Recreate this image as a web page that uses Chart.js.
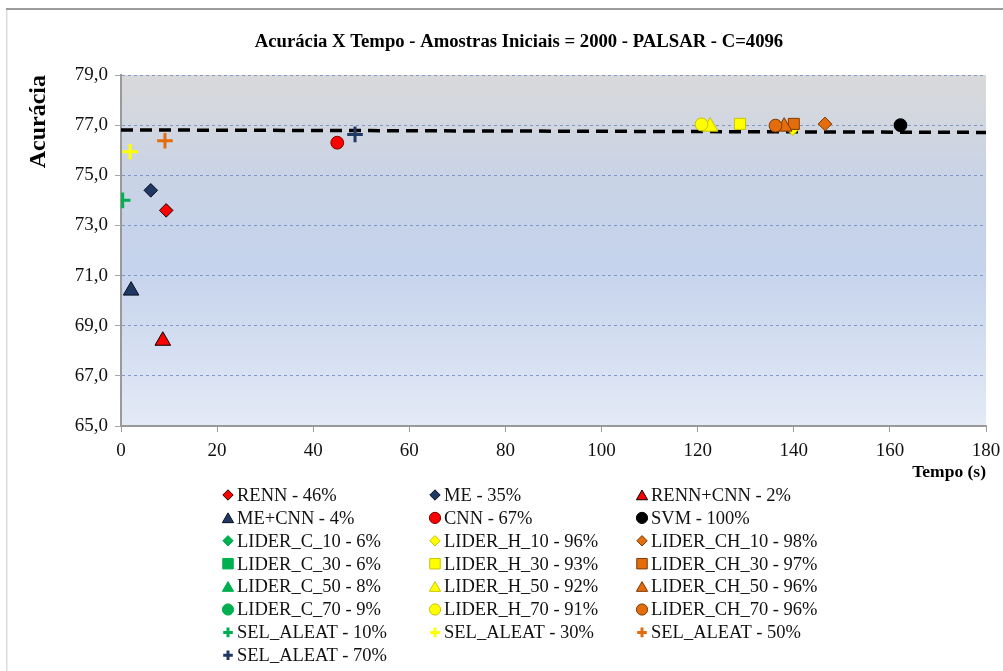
<!DOCTYPE html>
<html>
<head>
<meta charset="utf-8">
<script src="https://cdn.jsdelivr.net/npm/chart.js@4.4.1/dist/chart.umd.min.js"></script>
<style>
  html, body { margin: 0; padding: 0; background: #ffffff; }
  #wrap { width: 1003px; height: 671px; }
</style>
</head>
<body>
<div id="wrap"><canvas id="grafico" width="1003" height="671"></canvas></div>
<script>
// Título e eixos
const titulo = 'Acurácia X Tempo - Amostras Iniciais = 2000 - PALSAR - C=4096';
const tituloY = 'Acurácia';
const tituloX = 'Tempo (s)';
const ticksY = [65, 67, 69, 71, 73, 75, 77, 79];
const ticksX = [0, 20, 40, 60, 80, 100, 120, 140, 160, 180];

// Séries (nome exibido na legenda)
const series = [
  'RENN - 46%', 'ME - 35%', 'RENN+CNN - 2%',
  'ME+CNN - 4%', 'CNN - 67%', 'SVM - 100%',
  'LIDER_C_10 - 6%', 'LIDER_H_10 - 96%', 'LIDER_CH_10 - 98%',
  'LIDER_C_30 - 6%', 'LIDER_H_30 - 93%', 'LIDER_CH_30 - 97%',
  'LIDER_C_50 - 8%', 'LIDER_H_50 - 92%', 'LIDER_CH_50 - 96%',
  'LIDER_C_70 - 9%', 'LIDER_H_70 - 91%', 'LIDER_CH_70 - 96%',
  'SEL_ALEAT - 10%', 'SEL_ALEAT - 30%', 'SEL_ALEAT - 50%',
  'SEL_ALEAT - 70%'
];

// Tempo (s) de cada série; null = sem ponto visível no gráfico
const tempos = [
  9.4, 6.2, 8.7,
  2.1, 45.0, 162.2,
  null, 139.8, 146.5,
  null, 128.8, 140.0,
  null, 122.6, 138.0,
  null, 120.8, 136.2,
  0.35, 1.9, 9.15,
  48.7
];

// Acurácia (%) de cada série
const acuracias = [
  73.6, 74.4, 68.4,
  70.4, 76.3, 77.0,
  null, 76.86, 77.05,
  null, 77.05, 77.05,
  null, 76.94, 76.94,
  null, 77.03, 76.98,
  74.0, 75.94, 76.38,
  76.63
];

// Linha de referência tracejada (SVM)
const refTempo = [0, 180];
const refAcuracia = [76.81, 76.71];

// Estilo de cada série: forma, preenchimento, contorno
const VERMELHO = '#ff0000', AZUL = '#1f3864', VERDE = '#00b050',
      AMARELO = '#ffff00', LARANJA = '#e46c0a', PRETO = '#000000';
const estilos = [
  ['rectRot', VERMELHO, '#200000'], ['rectRot', AZUL, '#0a0f1c'], ['triangle', VERMELHO, '#000000'],
  ['triangle', AZUL, '#0a0f1c'], ['circle', VERMELHO, '#7a0000'], ['circle', PRETO, '#000000'],
  ['rectRot', VERDE, VERDE], ['rectRot', AMARELO, '#c9c400'], ['rectRot', LARANJA, '#7a3a05'],
  ['rect', VERDE, VERDE], ['rect', AMARELO, '#c9c400'], ['rect', LARANJA, '#7a3a05'],
  ['triangle', VERDE, VERDE], ['triangle', AMARELO, '#c9c400'], ['triangle', LARANJA, '#7a3a05'],
  ['circle', VERDE, VERDE], ['circle', AMARELO, '#c9c400'], ['circle', LARANJA, '#7a3a05'],
  ['cross', VERDE, VERDE], ['cross', AMARELO, AMARELO], ['cross', LARANJA, LARANJA],
  ['cross', AZUL, AZUL]
];
const raioPonto = { rectRot: 6.8, rect: 7.8, triangle: 9, circle: 6.4, cross: 7.8 };
const raioLegenda = { rectRot: 5.2, rect: 7.4, triangle: 6.5, circle: 5.6, cross: 4.8 };

const FONTE = '"Liberation Serif", "Times New Roman", serif';

const datasets = series.map((nome, i) => {
  const [forma, cor, contorno] = estilos[i];
  const cruz = forma === 'cross';
  return {
    type: 'scatter',
    label: nome,
    data: tempos[i] === null ? [] : [{ x: tempos[i], y: acuracias[i] }],
    pointStyle: forma,
    pointRadius: raioPonto[forma],
    pointHoverRadius: raioPonto[forma],
    backgroundColor: cor,
    borderColor: cruz ? cor : contorno,
    pointBorderWidth: cruz ? 3 : 1,
    order: -i
  };
});

datasets.push({
  type: 'line',
  label: 'referência',
  data: refTempo.map((t, k) => ({ x: t, y: refAcuracia[k] })),
  borderColor: '#000000',
  borderWidth: 3.5,
  borderDash: [12, 7],
  pointRadius: 0,
  fill: false,
  order: 100
});

// Moldura, fundo em degradê da área de plotagem, título e legenda em grade
const decoracao = {
  id: 'decoracao',
  beforeDraw(chart) {
    const { ctx, chartArea: a } = chart;
    ctx.save();
    ctx.fillStyle = '#ffffff';
    ctx.fillRect(0, 0, chart.width, chart.height);
    const g = ctx.createLinearGradient(0, a.top, 0, a.bottom);
    g.addColorStop(0, '#d9d9da');
    g.addColorStop(0.3, '#c9d3e6');
    g.addColorStop(0.55, '#c5d3ec');
    g.addColorStop(1, '#e4eaf6');
    ctx.fillStyle = g;
    ctx.fillRect(a.left, a.top, a.right - a.left, a.bottom - a.top);
    // moldura externa
    ctx.fillStyle = '#9c9c9c';
    ctx.fillRect(6, 8, chart.width - 6, 2);
    ctx.fillStyle = '#dcdcdc';
    ctx.fillRect(6, 10, 1.5, chart.height - 10);
    ctx.restore();
  },
  afterDraw(chart) {
    const { ctx } = chart;
    ctx.save();
    ctx.fillStyle = '#000000';
    ctx.font = 'bold 18.7px ' + FONTE;
    ctx.textAlign = 'center';
    ctx.textBaseline = 'middle';
    ctx.fillText(titulo, 519, 42);

    // legenda: 3 colunas, preenchida por linha
    const colMarca = [228, 435, 642];
    const y0 = 495, passo = 22.9;
    ctx.font = '18.5px ' + FONTE;
    ctx.textAlign = 'left';
    series.forEach((nome, i) => {
      const col = i % 3, lin = Math.floor(i / 3);
      const [forma, cor, contorno] = estilos[i];
      const cruz = forma === 'cross';
      const x = colMarca[col], y = y0 + lin * passo;
      ctx.fillStyle = cor;
      ctx.strokeStyle = cruz ? cor : contorno;
      ctx.lineWidth = cruz ? 3 : 1;
      Chart.helpers.drawPoint(ctx, {
        pointStyle: forma,
        radius: raioLegenda[forma],
        rotation: 0,
        borderWidth: cruz ? 3 : 1
      }, x, forma === 'triangle' ? y + 1.5 : y);
      ctx.fillStyle = '#111111';
      ctx.fillText(nome, x + 9, y + 1);
    });
    ctx.restore();
  }
};

new Chart(document.getElementById('grafico'), {
  data: { datasets },
  plugins: [decoracao],
  options: {
    responsive: false,
    animation: false,
    layout: { padding: { top: 75, left: 0, right: 17, bottom: 181 } },
    plugins: {
      legend: { display: false },
      title: { display: false },
      tooltip: { enabled: false }
    },
    scales: {
      x: {
        type: 'linear',
        min: ticksX[0],
        max: ticksX[ticksX.length - 1],
        afterBuildTicks: s => { s.ticks = ticksX.map(v => ({ value: v })); },
        afterFit: s => { s.height = 64; s.paddingLeft = 0; s.paddingRight = 0; },
        grid: { drawOnChartArea: false, drawTicks: true, tickLength: 6, tickColor: '#9a9a9a' },
        border: { display: true, color: '#9a9a9a', width: 2 },
        ticks: { color: '#111111', font: { family: FONTE, size: 19 }, padding: 8, maxRotation: 0 },
        title: {
          display: true, text: tituloX, align: 'end', color: '#000000',
          font: { family: FONTE, size: 17.5, weight: 'bold' },
          padding: { top: 0, bottom: 7 }
        }
      },
      y: {
        type: 'linear',
        min: ticksY[0],
        max: ticksY[ticksY.length - 1],
        afterBuildTicks: s => { s.ticks = ticksY.map(v => ({ value: v })); },
        afterFit: s => { s.width = 121; s.paddingTop = 0; s.paddingBottom = 0; },
        grid: {
          color: 'rgba(110,140,200,0.85)', lineWidth: 1,
          drawTicks: true, tickLength: 6, tickColor: '#a8a8a8', tickBorderDash: []
        },
        border: { display: true, color: '#9a9a9a', width: 2, dash: [3, 3] },
        ticks: {
          color: '#111111', font: { family: FONTE, size: 19 }, padding: 7,
          callback: v => v.toFixed(1).replace('.', ',')
        },
        title: {
          display: true, text: tituloY, align: 'end', color: '#000000',
          font: { family: FONTE, size: 24, weight: 'bold' },
          padding: { top: 24, bottom: 0 }
        }
      }
    }
  }
});
</script>
</body>
</html>
